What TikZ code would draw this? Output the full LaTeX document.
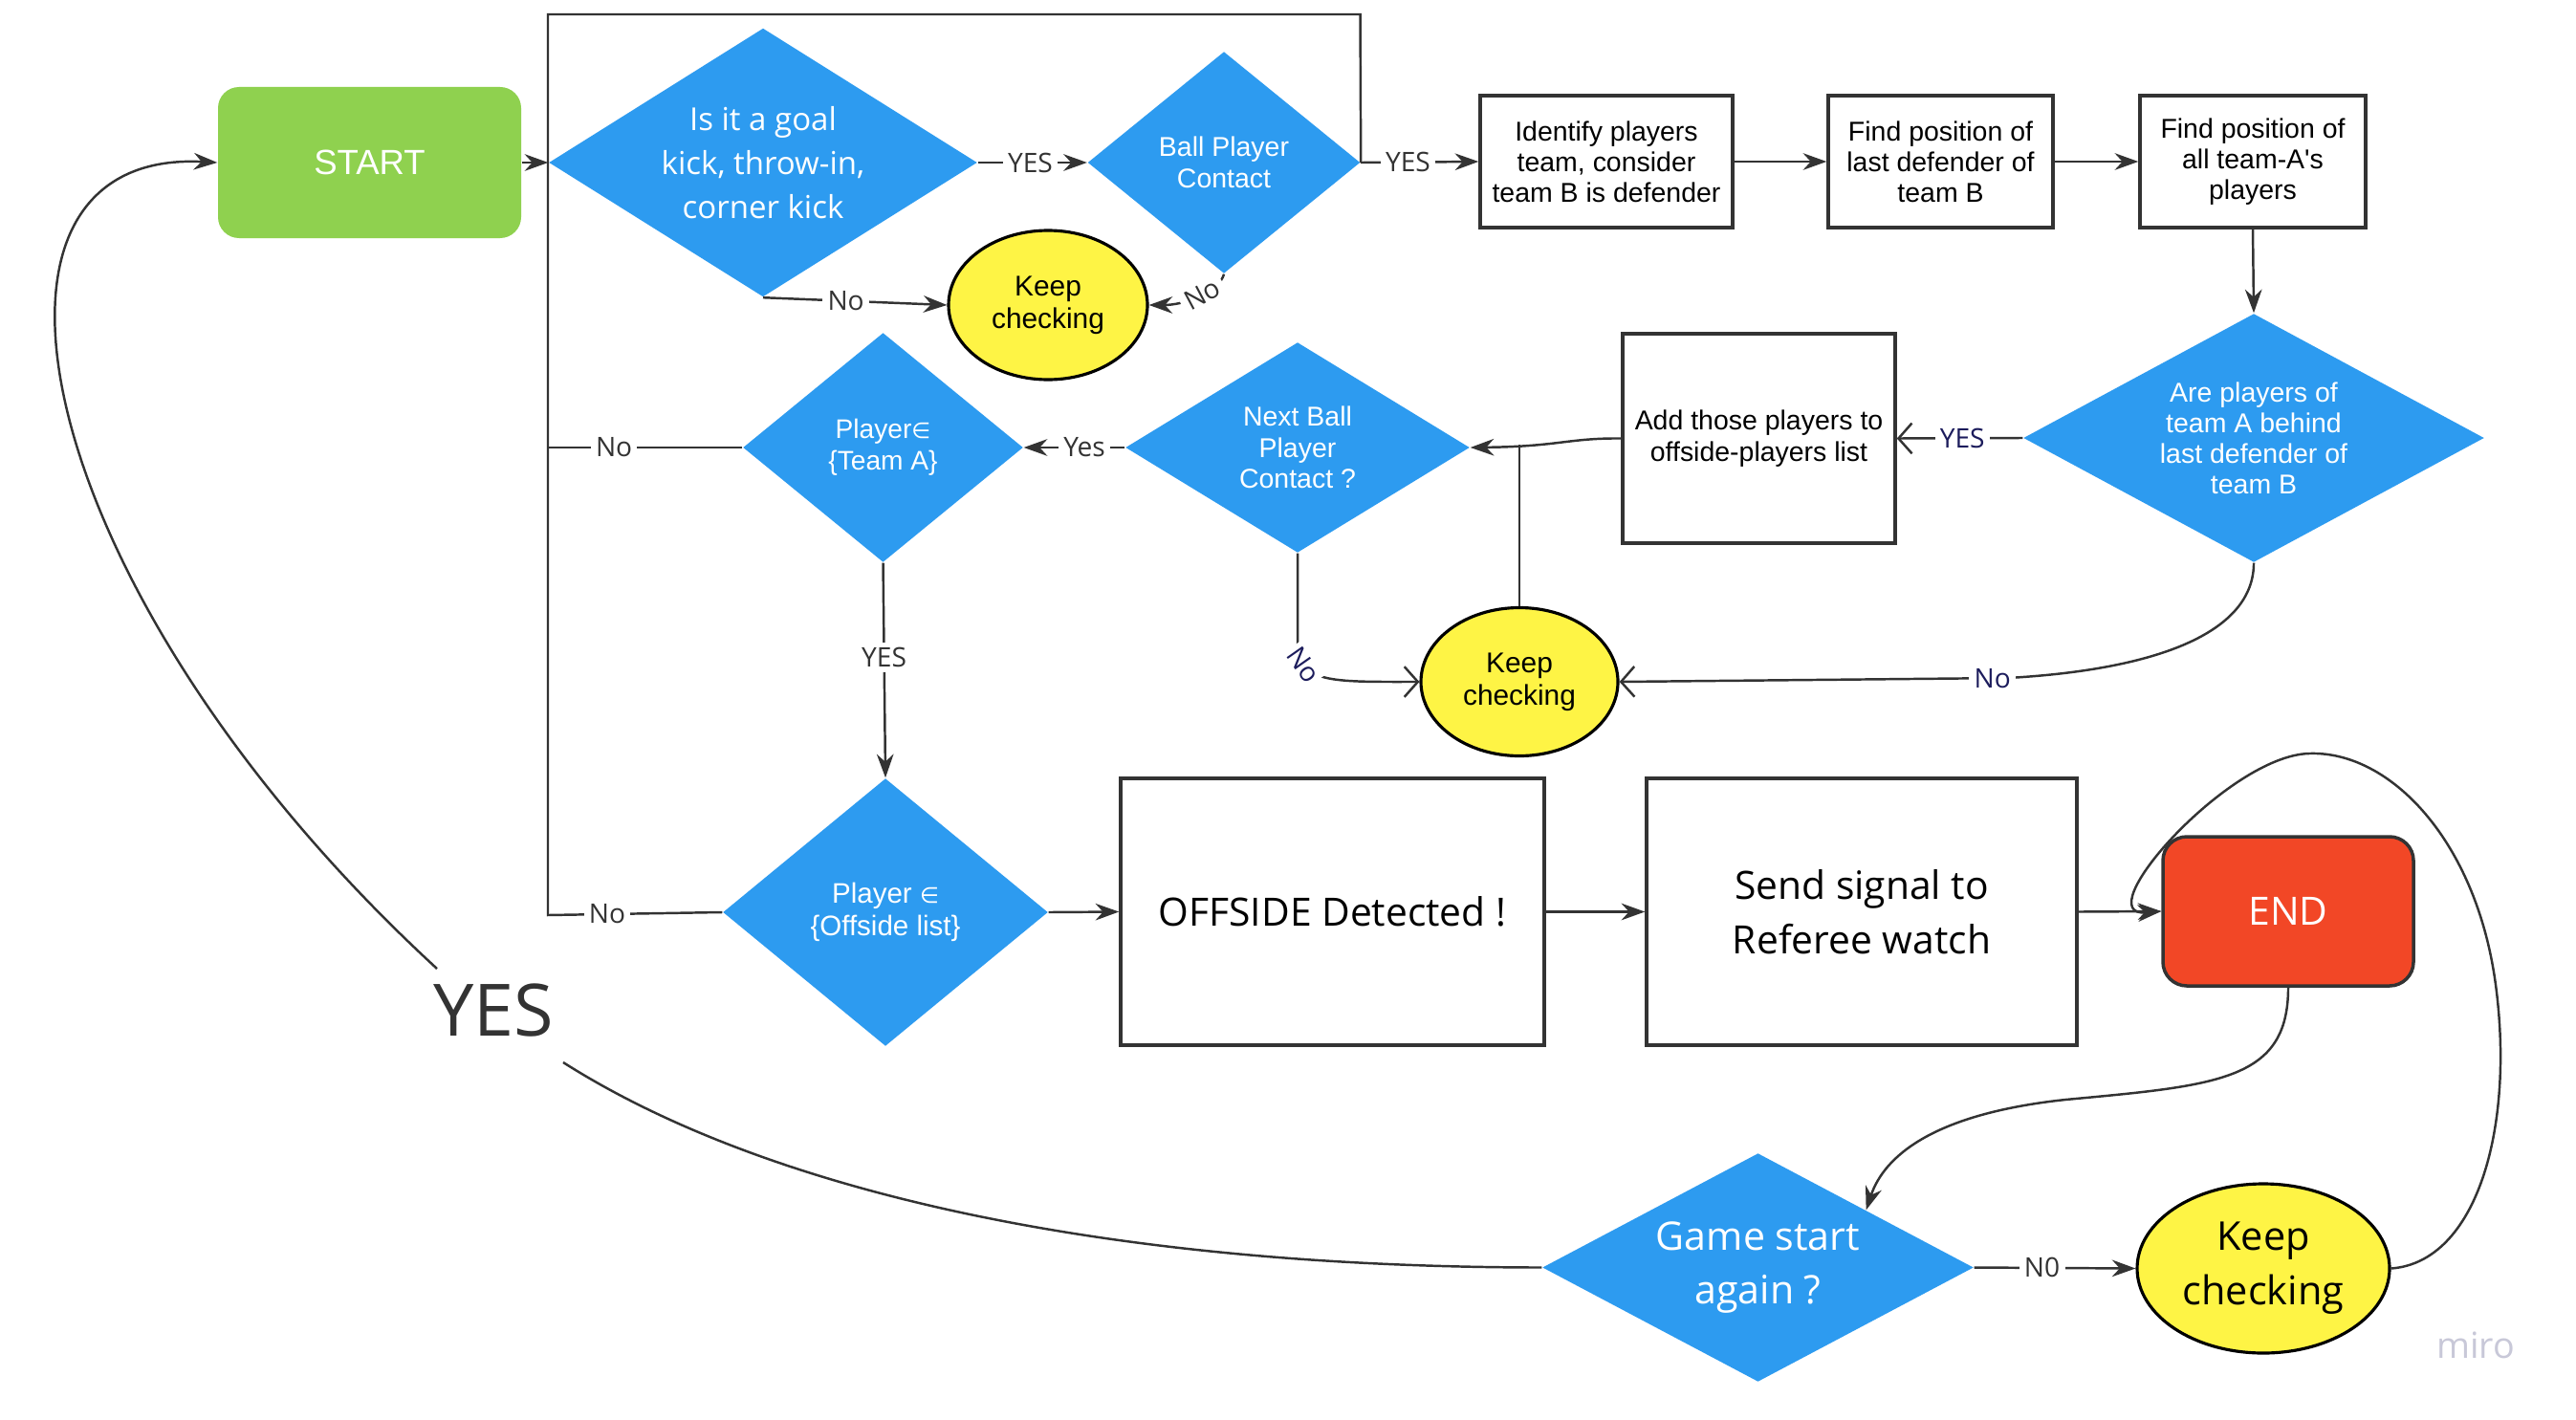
\documentclass[tikz,border=0pt]{standalone}
\usepackage{fontspec}
\setmainfont{Open Sans}
\newfontfamily\arialf{Liberation Sans}
\newfontfamily\dejavuf{DejaVu Sans}
\usetikzlibrary{shapes.geometric,arrows.meta,calc}
\definecolor{mblue}{HTML}{2D9BF0}
\definecolor{mgreen}{HTML}{8FD14F}
\definecolor{myellow}{HTML}{FEF445}
\definecolor{mred}{HTML}{F24726}
\definecolor{lnc}{HTML}{333333}
\definecolor{lblnavy}{HTML}{1C1C5C}
\definecolor{mirogray}{HTML}{C8C8D8}
\begin{document}
\begin{tikzpicture}[
  dia/.style={diamond, fill=mblue, text=white, inner sep=0pt, align=center},
  box/.style={rectangle, draw=lnc, line width=1pt, fill=white, inner sep=0pt, align=center},
  kc/.style={ellipse, draw=black, line width=0.9pt, fill=myellow, inner sep=0pt, align=center},
  smallarial/.style={font=\arialf\fontsize{8.1}{9.1}\selectfont},
  bigopen/.style={font=\fontsize{11.6}{16.2}\selectfont},
  edge/.style={draw=lnc, line width=0.7pt},
  arr/.style={edge, -{Stealth[length=7pt,width=5pt]}},
  oarr/.style={edge, -{Straight Barb[length=4pt,width=9pt]}},
  lbl/.style={fill=white, inner sep=1.5pt, text=lnc, font=\fontsize{8}{9}\selectfont},
  nlbl/.style={lbl, text=lblnavy},
]
\fill[white] (0,0) rectangle (26.94,-14.84);
\useasboundingbox (0,0) rectangle (26.94,-14.84);

% nodes
\node[rectangle, rounded corners=0.22cm, fill=mgreen, text=white, minimum width=3.17cm, minimum height=1.58cm, inner sep=0pt, font=\arialf\fontsize{10.4}{12}\selectfont] (start) at (3.865,-1.70) {START};
\node[dia, shape aspect=1.59, minimum width=4.48cm, minimum height=2.81cm, font=\fontsize{9.4}{13}\selectfont] (goal) at (7.98,-1.70) {Is it a goal\\kick, throw-in,\\corner kick};
\node[dia, shape aspect=1.23, minimum width=2.85cm, minimum height=2.32cm, font=\arialf\fontsize{8.1}{9.4}\selectfont] (bpc) at (12.80,-1.70) {Ball Player\\Contact};
\node[kc, minimum width=2.08cm, minimum height=1.56cm, font=\arialf\fontsize{8.5}{9.6}\selectfont] (kc1) at (10.96,-3.19) {Keep\\checking};

\node[box, minimum width=2.64cm, minimum height=1.38cm, smallarial] (idf) at (16.80,-1.69) {Identify players\\team, consider\\team B is defender};
\node[box, minimum width=2.35cm, minimum height=1.38cm, smallarial] (fld) at (20.295,-1.69) {Find position of\\last defender of\\team B};
\node[box, minimum width=2.36cm, minimum height=1.38cm, smallarial] (fall) at (23.56,-1.69) {Find position of\\all team-A's\\players};

\node[dia, shape aspect=1.85, minimum width=4.82cm, minimum height=2.60cm, smallarial] (are) at (23.57,-4.58) {Are players of\\team A behind\\last defender of\\team B};
\node[box, minimum width=2.85cm, minimum height=2.19cm, font=\arialf\fontsize{8.1}{9.5}\selectfont] (add) at (18.395,-4.585) {Add those players to\\offside-players list};
\node[dia, shape aspect=1.64, minimum width=3.60cm, minimum height=2.20cm, font=\arialf\fontsize{8.1}{9.3}\selectfont] (nbc) at (13.57,-4.68) {Next Ball\\Player\\Contact ?};
\node[dia, shape aspect=1.22, minimum width=2.93cm, minimum height=2.40cm, font=\arialf\fontsize{8}{9.3}\selectfont] (pa) at (9.235,-4.68) {Player{\dejavuf\fontsize{6.5}{7}\selectfont ∈}\\\{Team A\}};
\node[kc, minimum width=2.06cm, minimum height=1.55cm, font=\arialf\fontsize{8.5}{9.6}\selectfont] (kc2) at (15.89,-7.13) {Keep\\checking};

\node[dia, shape aspect=1.21, minimum width=3.40cm, minimum height=2.80cm, font=\arialf\fontsize{8.4}{9.6}\selectfont] (po) at (9.26,-9.54) {Player {\dejavuf\fontsize{6.5}{7}\selectfont ∈}\\\{Offside list\}};
\node[box, minimum width=4.43cm, minimum height=2.79cm, bigopen] (off) at (13.935,-9.535) {OFFSIDE Detected !};
\node[box, minimum width=4.50cm, minimum height=2.79cm, bigopen] (send) at (19.47,-9.535) {Send signal to\\Referee watch};
\node[rectangle, rounded corners=0.25cm, draw=lnc, line width=1pt, fill=mred, text=white, minimum width=2.62cm, minimum height=1.56cm, inner sep=0pt, bigopen] (end) at (23.93,-9.53) {END};

\node[dia, shape aspect=1.89, minimum width=4.51cm, minimum height=2.39cm, font=\fontsize{11.7}{16.2}\selectfont] (gsa) at (18.385,-13.255) {Game start\\again ?};
\node[kc, minimum width=2.64cm, minimum height=1.77cm, font=\fontsize{11.8}{16.2}\selectfont] (kc3) at (23.67,-13.265) {Keep\\checking};

\node[text=lnc, inner sep=0pt, font=\fontsize{21.5}{24}\selectfont] (yeslbl) at (5.165,-10.56) {YES};
\node[text=mirogray, inner sep=0pt, font=\fontsize{10.7}{12}\selectfont] (miro) at (25.89,-14.07) {miro};

% helper coordinates
\coordinate (ltop) at (5.73,-0.15);
\coordinate (rtop) at (14.225,-0.15);
\coordinate (lbot) at (5.73,-9.57);
\coordinate (j) at (15.87,-4.645);
\coordinate (y1) at (5.89,-11.11);
\coordinate (y2) at (4.57,-10.13);

% connectors
\draw[arr] (start.east) -- (goal.west);
\draw[arr] (goal.east) -- node[lbl,pos=0.48]{YES} (bpc.west);
\draw[arr] (bpc.east) -- node[lbl,pos=0.4]{YES} (idf.west);
\draw[arr] (goal.south) -- node[lbl,pos=0.45]{No} (kc1.west);
\draw[arr] (bpc.south) .. controls (12.75,-3.05) and (12.4,-3.19) .. node[lbl,pos=0.45,rotate=28]{No} (kc1.east);

\draw[arr] (idf.east) -- (fld.west);
\draw[arr] (fld.east) -- (fall.west);
\draw[arr] (fall.south) -- (are.north);

\draw[oarr] (are.west) -- node[nlbl,pos=0.48]{YES} (add.east);
\draw[arr] (add.west) .. controls (16.4,-4.58) and (16.3,-4.67) .. (nbc.east);
\draw[edge] (kc2.north) -- (kc2.north |- j);
\draw[arr] (nbc.west) -- node[lbl,pos=0.4]{Yes} (pa.east);
\draw[edge] (pa.west) -- node[lbl,pos=0.66]{No} (pa.west -| lbot);
\draw[arr] (pa.south) -- node[lbl,pos=0.44]{YES} (po.north);
\draw[edge] (po.west) -- node[lbl,pos=0.66]{No} (lbot) -- (ltop) -- (rtop) -- (bpc.east);

\draw[arr] (po.east) -- (off.west);
\draw[arr] (off.east) -- (send.west);
\draw[arr] (send.east) -- (end.west);

\draw[oarr] (are.south) .. controls (23.57,-6.6) and (22.6,-7.0) .. (21.0,-7.09) -- node[nlbl,pos=0.04]{No} (kc2.east);
\draw[oarr] (nbc.south) -- (13.57,-6.70) .. controls (13.57,-7.15) and (13.9,-7.13) .. node[nlbl,pos=0.24,rotate=-55,inner sep=0.8pt]{No} (kc2.west);

\draw[arr] (gsa.east) -- node[lbl,pos=0.42]{N0} (kc3.west);
\draw[arr] (end.south) .. controls (23.93,-11.3) and (23.2,-11.35) .. (21.6,-11.5) .. controls (20.2,-11.65) and (19.7,-12.1) .. ($(gsa.north)!0.5!(gsa.east)$);
\draw[arr] (kc3.east) .. controls (25.9,-13.2) and (26.3,-11.8) .. (26.1,-10.3) .. controls (25.9,-8.8) and (25.0,-7.85) .. (24.15,-7.88) .. controls (23.3,-7.9) and (21.8,-9.6) .. (end.west);

\draw[edge] (gsa.west) .. controls (11.5,-13.25) and (8.0,-12.45) .. (y1);
\draw[arr] (y2) .. controls (0.3,-6.2) and (-0.6,-1.55) .. (start.west);
\end{tikzpicture}
\end{document}
